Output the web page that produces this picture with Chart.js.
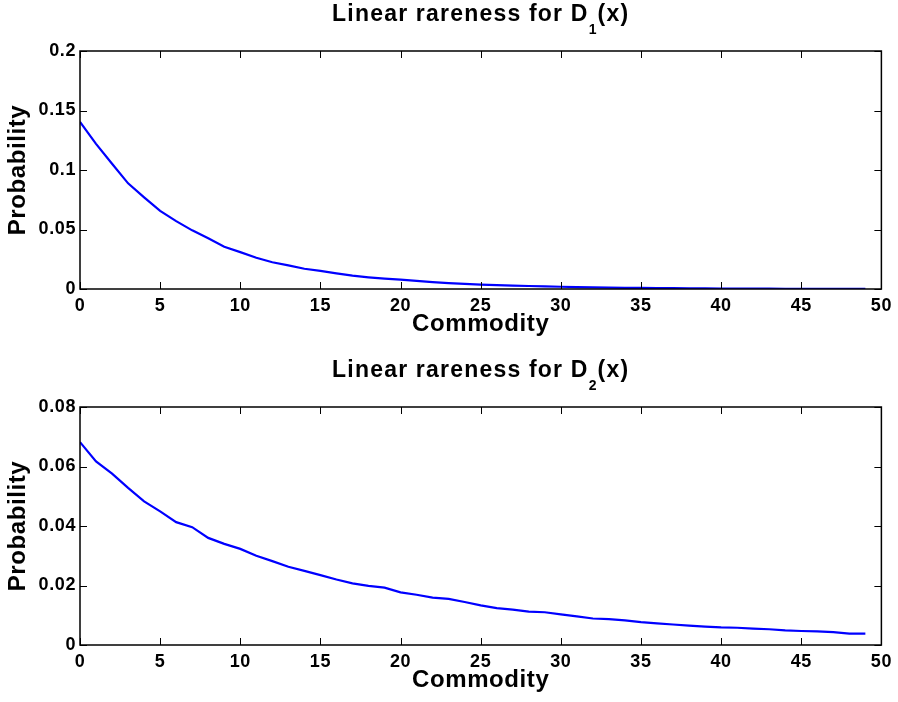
<!DOCTYPE html>
<html>
<head>
<meta charset="utf-8">
<script src="https://cdn.jsdelivr.net/npm/chart.js@4.4.1/dist/chart.umd.min.js"></script>
<style>
  html, body { margin: 0; padding: 0; background: #fff; overflow: hidden; }
  .plot { position: absolute; left: 0; width: 898px; height: 351px; }
  #top-wrap { top: 0; }
  #bottom-wrap { top: 351px; }
</style>
</head>
<body>
<div class="plot" id="top-wrap"><canvas id="chart-d1" width="898" height="351"></canvas></div>
<div class="plot" id="bottom-wrap"><canvas id="chart-d2" width="898" height="351"></canvas></div>
<script>
// commodity index (x axis)
const commodities = [0, 1, 2, 3, 4, 5, 6, 7, 8, 9, 10, 11, 12, 13, 14, 15, 16, 17, 18, 19,
  20, 21, 22, 23, 24, 25, 26, 27, 28, 29, 30, 31, 32, 33, 34, 35, 36, 37, 38, 39,
  40, 41, 42, 43, 44, 45, 46, 47, 48, 49];

// probabilities
const probD1 = [0.1405, 0.1220, 0.1052, 0.0888, 0.0770, 0.0656, 0.0570, 0.0493, 0.0426, 0.0355,
  0.0310, 0.0262, 0.0225, 0.0198, 0.0170, 0.0152, 0.0132, 0.0112, 0.0098, 0.0087,
  0.0078, 0.0068, 0.0058, 0.0050, 0.0043, 0.0037, 0.0032, 0.0028, 0.0025, 0.0022,
  0.0019, 0.0016, 0.0014, 0.0012, 0.0010, 0.0009, 0.0008, 0.0007, 0.0006, 0.0005,
  0.0004, 0.0004, 0.0003, 0.0003, 0.0002, 0.0002, 0.0002, 0.0001, 0.0001, 0.0001];

const probD2 = [0.0682, 0.0617, 0.0576, 0.0528, 0.0483, 0.0449, 0.0413, 0.0396, 0.0360, 0.0340,
  0.0323, 0.0300, 0.0282, 0.0263, 0.0249, 0.0235, 0.0220, 0.0207, 0.0199, 0.0193,
  0.0177, 0.0169, 0.0159, 0.0155, 0.01445, 0.0133, 0.0124, 0.0119, 0.0112, 0.0110,
  0.0103, 0.0096, 0.0089, 0.0087, 0.0083, 0.0077, 0.0073, 0.0069, 0.0065, 0.0062,
  0.0059, 0.0058, 0.0055, 0.0053, 0.0049, 0.0047, 0.0046, 0.0043, 0.0038, 0.0038];

const xTicks = [0, 5, 10, 15, 20, 25, 30, 35, 40, 45, 50];

const FONT = '"Liberation Sans", Arial, Helvetica, sans-serif';

// matlab figures look slightly letter-spaced
const spacingPlugin = {
  id: 'spacing',
  beforeLayout(chart) { chart.ctx.letterSpacing = '0.6px'; },
  beforeDraw(chart) { chart.ctx.letterSpacing = '0.6px'; }
};

// box + inward ticks on all four sides
const boxPlugin = {
  id: 'box',
  afterDraw(chart) {
    const { ctx, chartArea: a, scales } = chart;
    ctx.save();
    ctx.strokeStyle = '#000';
    ctx.lineWidth = 1;
    scales.x.ticks.forEach(t => {
      const px = Math.round(scales.x.getPixelForValue(t.value)) + 0.5;
      ctx.beginPath();
      ctx.moveTo(px, a.bottom); ctx.lineTo(px, a.bottom - 7);
      ctx.moveTo(px, a.top); ctx.lineTo(px, a.top + 7);
      ctx.stroke();
    });
    scales.y.ticks.forEach(t => {
      const py = Math.round(scales.y.getPixelForValue(t.value)) + 0.5;
      ctx.beginPath();
      ctx.moveTo(a.left, py); ctx.lineTo(a.left + 7, py);
      ctx.moveTo(a.right, py); ctx.lineTo(a.right - 7, py);
      ctx.stroke();
    });
    ctx.lineWidth = 1.5;
    ctx.strokeRect(a.left, a.top, a.right - a.left, a.bottom - a.top);
    ctx.restore();
  }
};

// title with a subscript, e.g. D_1(x)
const subTitlePlugin = {
  id: 'subTitle',
  afterDraw(chart, args, opts) {
    const { ctx, chartArea: a } = chart;
    ctx.save();
    ctx.fillStyle = '#000';
    ctx.textBaseline = 'alphabetic';
    ctx.textAlign = 'left';
    ctx.letterSpacing = '1.2px';
    const mainFont = 'bold 23px ' + FONT;
    const subFont = 'bold 14px ' + FONT;
    ctx.font = mainFont;
    const w1 = ctx.measureText(opts.main).width;
    const w3 = ctx.measureText(opts.tail).width;
    ctx.font = subFont;
    const w2 = ctx.measureText(opts.sub).width;
    let x = (a.left + a.right) / 2 - (w1 + w2 + w3) / 2;
    ctx.font = mainFont;
    ctx.fillText(opts.main, x, opts.y);
    x += w1;
    ctx.font = subFont;
    ctx.fillText(opts.sub, x, opts.y + 13);
    x += w2;
    ctx.font = mainFont;
    ctx.fillText(opts.tail, x, opts.y);
    ctx.restore();
  }
};

function makeChart(id, values, yMax, yStep, sub, geo) {
  const points = commodities.map((c, i) => ({ x: c, y: values[i] }));
  return new Chart(document.getElementById(id), {
    type: 'line',
    data: {
      datasets: [{
        data: points,
        borderColor: '#0000ff',
        borderWidth: 2.2,
        pointRadius: 0,
        tension: 0,
        fill: false
      }]
    },
    options: {
      responsive: false,
      animation: false,
      layout: { padding: { top: geo.top, right: 15, left: 0, bottom: 0 } },
      scales: {
        x: {
          type: 'linear',
          min: 0,
          max: 50,
          afterBuildTicks: s => { s.ticks = xTicks.map(v => ({ value: v })); },
          afterFit: s => { s.height = geo.xHeight; },
          grid: { display: false, drawTicks: false },
          border: { display: false },
          ticks: {
            color: '#000',
            padding: 6,
            maxRotation: 0,
            font: { family: FONT, size: 18, weight: 'bold' }
          },
          title: {
            display: true,
            text: 'Commodity',
            color: '#000',
            padding: { top: 0, bottom: geo.titlePad },
            font: { family: FONT, size: 24, weight: 'bold' }
          }
        },
        y: {
          min: 0,
          max: yMax,
          afterFit: s => { s.width = 80; },
          grid: { display: false, drawTicks: false },
          border: { display: false },
          ticks: {
            stepSize: yStep,
            color: '#000',
            padding: 4,
            font: { family: FONT, size: 18, weight: 'bold' },
            callback: v => String(+v.toFixed(3))
          },
          title: {
            display: true,
            text: 'Probability',
            color: '#000',
            padding: { top: 4, bottom: 0 },
            font: { family: FONT, size: 24, weight: 'bold' }
          }
        }
      },
      plugins: {
        legend: { display: false },
        tooltip: { enabled: false },
        subTitle: { main: 'Linear rareness for D', sub: sub, tail: '(x)', y: geo.titleY }
      }
    },
    plugins: [spacingPlugin, boxPlugin, subTitlePlugin]
  });
}

makeChart('chart-d1', probD1, 0.2, 0.05, '1', { top: 51, xHeight: 62, titlePad: 12, titleY: 21 });
makeChart('chart-d2', probD2, 0.08, 0.02, '2', { top: 56, xHeight: 57, titlePad: 7, titleY: 26 });
</script>
</body>
</html>
